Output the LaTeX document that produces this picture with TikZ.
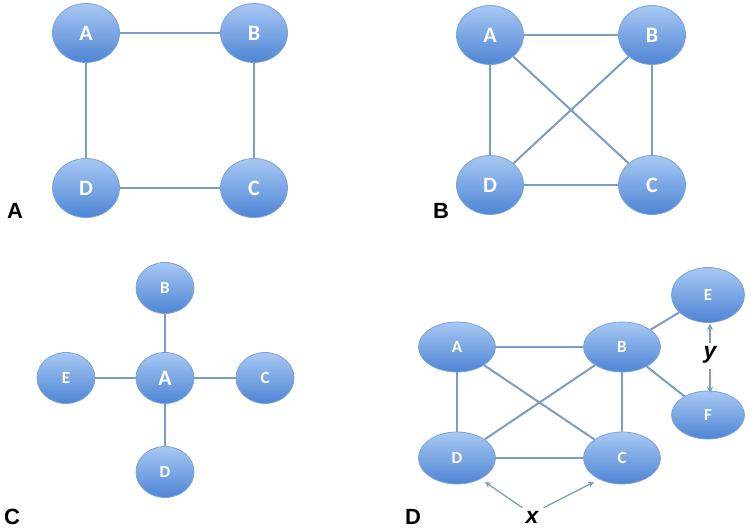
\documentclass[tikz,border=0pt]{standalone}
\usepackage{fontspec}
\setmainfont{Liberation Sans}
\newfontfamily\nodefont{Carlito}
\usetikzlibrary{arrows.meta,backgrounds,shapes.geometric}
\definecolor{edgeblue}{HTML}{7A9DC8}
\definecolor{rimblue}{HTML}{7AA3D9}
\definecolor{topblue}{HTML}{A8C8F3}
\definecolor{botblue}{HTML}{4E85D5}
\tikzset{
  vtx/.style={ellipse, draw=rimblue, line width=0.8pt, top color=topblue, bottom color=botblue,
    text=white, inner sep=0pt, font=\nodefont\bfseries},
  big/.style={vtx, minimum width=67pt, minimum height=59pt, font=\nodefont\bfseries\fontsize{22}{22}\selectfont},
  small/.style={vtx, minimum width=58pt, minimum height=51pt, font=\nodefont\bfseries\fontsize{17}{17}\selectfont},
  wide/.style={vtx, minimum width=77pt, minimum height=50pt, font=\nodefont\bfseries\fontsize{17}{17}\selectfont},
  link/.style={draw=edgeblue, line width=2pt},
  pointer/.style={draw=edgeblue, line width=1.3pt, -{Stealth[length=6pt,width=6pt]}},
  panel/.style={font=\bfseries\fontsize{22}{22}\selectfont, text=black, inner sep=0pt},
  tag/.style={font=\bfseries\itshape\fontsize{23}{23}\selectfont, text=black, inner sep=0pt}
}
\begin{document}
\begin{tikzpicture}[x=1pt,y=-1pt]
\useasboundingbox (0,0) rectangle (750,529);
% Panel A
\node[big] (aA) at (86,33) {A};
\node[big] (aB) at (254,33) {B};
\node[big] (aD) at (86,188) {D};
\node[big] (aC) at (254,188) {C};
\node[panel] (labA) at (15,211) {A};
% Panel B
\node[big] (bA) at (490,35) {A};
\node[big] (bB) at (652,35) {B};
\node[big] (bD) at (490,185) {D};
\node[big] (bC) at (652,185) {C};
\node[panel] (labB) at (441,211) {B};
% Panel C
\node[small] (cB) at (165,288) {B};
\node[small, font=\nodefont\bfseries\fontsize{22}{22}\selectfont] (cA) at (165,378) {A};
\node[small] (cE) at (66,378) {E};
\node[small] (cC) at (265,378) {C};
\node[small] (cD) at (165,472) {D};
\node[panel] (labC) at (12,517) {C};
% Panel D
\node[wide] (dA) at (457,347) {A};
\node[wide] (dB) at (622,347) {B};
\node[wide, minimum height=52pt] (dD) at (457,458) {D};
\node[wide, minimum height=52pt] (dC) at (622,458) {C};
\node[wide, minimum width=73pt, minimum height=55pt] (dE) at (708,295) {E};
\node[wide, minimum width=73pt, minimum height=48pt] (dF) at (708,415) {F};
\node[panel] (labD) at (413,517) {D};
\node[tag] (ty) at (710,355) {y};
\node[tag] (tx) at (532,517) {x};
\coordinate (yup) at (710,324);
\coordinate (ydn) at (710,393);
\coordinate (xl) at (485,482);
\coordinate (xr) at (594,482);
\begin{scope}[on background layer]
\draw[link] (aA) -- (aB);
\draw[link] (aB) -- (aC);
\draw[link] (aC) -- (aD);
\draw[link] (aD) -- (aA);
\draw[link] (bA) -- (bB);
\draw[link] (bB) -- (bC);
\draw[link] (bC) -- (bD);
\draw[link] (bD) -- (bA);
\draw[link] (bA) -- (bC);
\draw[link] (bB) -- (bD);
\draw[link] (cA) -- (cB);
\draw[link] (cA) -- (cC);
\draw[link] (cA) -- (cD);
\draw[link] (cA) -- (cE);
\draw[link] (dA) -- (dB);
\draw[link] (dB) -- (dC);
\draw[link] (dC) -- (dD);
\draw[link] (dD) -- (dA);
\draw[link] (dA) -- (dC);
\draw[link] (dB) -- (dD);
\draw[link] (dB) -- (dE);
\draw[link] (dB) -- (dF);
\end{scope}
\coordinate (ytop) at ([yshift=3pt]ty.north);
\coordinate (ybot) at ([yshift=-5pt]ty.south);
\coordinate (xa) at ([shift={(-3pt,3pt)}]tx.north west);
\coordinate (xb) at ([shift={(5pt,3pt)}]tx.north east);
\draw[pointer] (ytop) -- (yup);
\draw[pointer] (ybot) -- (ydn);
\draw[pointer] (xa) -- (xl);
\draw[pointer] (xb) -- (xr);
\end{tikzpicture}
\end{document}
